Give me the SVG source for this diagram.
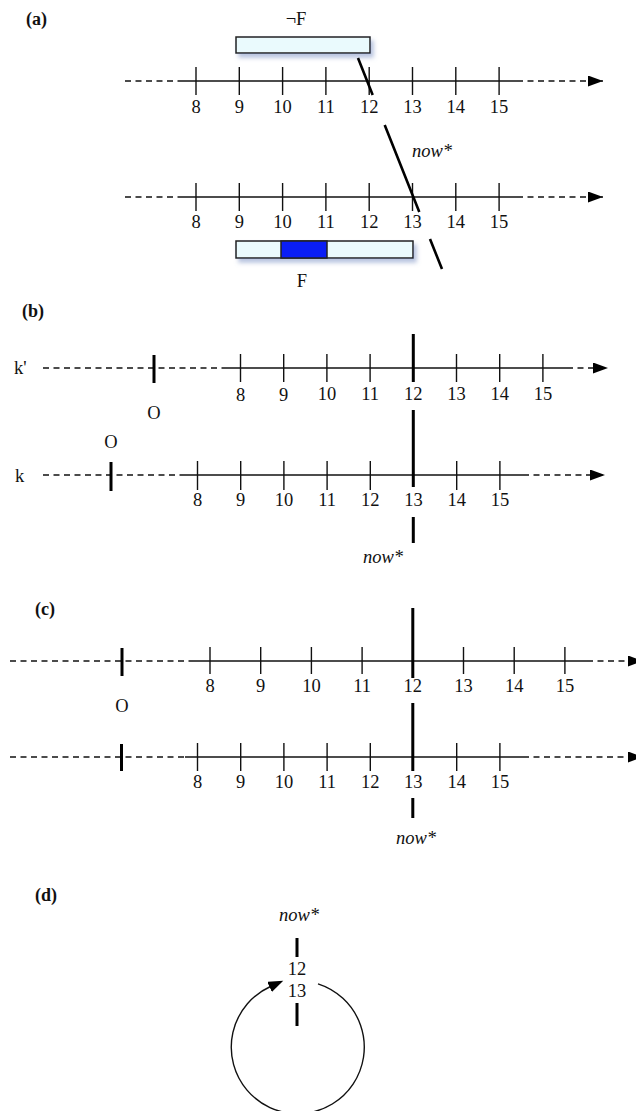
<svg xmlns="http://www.w3.org/2000/svg" width="636" height="1111" viewBox="0 0 636 1111">
<style>
.ax{stroke:#111;stroke-width:1.4;fill:none}
.da{stroke:#111;stroke-width:1.4;fill:none;stroke-dasharray:6 4.5}
.tk{stroke:#111;stroke-width:1.4}
.th{stroke:#000;stroke-width:3}
.nw{stroke:#000;stroke-width:2.6;fill:none}
.n{font-family:"Liberation Serif",serif;font-size:18.5px;fill:#111;text-anchor:middle}
.l{font-family:"Liberation Serif",serif;font-size:18.5px;fill:#111}
.b{font-family:"Liberation Serif",serif;font-size:18px;font-weight:bold;fill:#111}
.i{font-family:"Liberation Serif",serif;font-size:18.5px;font-style:italic;fill:#111}
.bx{fill:#eafafd;stroke:#222;stroke-width:1.5}
.blue{fill:#0a1ef5;stroke:#222;stroke-width:1.5}
</style>
<defs>
<marker id="arr" markerUnits="userSpaceOnUse" markerWidth="16" markerHeight="12" refX="15" refY="5.5" orient="auto">
<path d="M0,0 L15,5.5 L0,11 z" fill="#000"/>
</marker>
<marker id="arr2" markerUnits="userSpaceOnUse" markerWidth="16" markerHeight="12" refX="1" refY="5.5" orient="auto">
<path d="M0,0 L15,5.5 L0,11 z" fill="#000"/>
</marker>
<filter id="sh" x="-10%" y="-40%" width="130%" height="220%">
<feDropShadow dx="3" dy="4" stdDeviation="2" flood-color="#7088c0" flood-opacity="0.5"/>
</filter>
</defs>

<!-- Panel (a) -->
<g id="panel-a">
<text class="b" x="26" y="25">(a)</text>
<g id="notF-box">
<rect class="bx" x="236" y="37" width="134" height="16" filter="url(#sh)"/>
<text class="l" x="296" y="25" text-anchor="middle">¬F</text>
</g>
<g id="a-line1">
<path class="da" d="M125,81 H178"/>
<path class="ax" d="M178,81 H517"/>
<path class="da" d="M517,81 H603" marker-end="url(#arr)"/>
<g class="tk">
<line x1="196" y1="67" x2="196" y2="95"/><line x1="239.3" y1="67" x2="239.3" y2="95"/>
<line x1="282.6" y1="67" x2="282.6" y2="95"/><line x1="325.9" y1="67" x2="325.9" y2="95"/>
<line x1="369.2" y1="67" x2="369.2" y2="95"/><line x1="412.5" y1="67" x2="412.5" y2="95"/>
<line x1="455.8" y1="67" x2="455.8" y2="95"/><line x1="499.1" y1="67" x2="499.1" y2="95"/>
</g>
<text class="n" x="196" y="113">8</text><text class="n" x="239.3" y="113">9</text>
<text class="n" x="282.6" y="113">10</text><text class="n" x="325.9" y="113">11</text>
<text class="n" x="369.2" y="113">12</text><text class="n" x="412.5" y="113">13</text>
<text class="n" x="455.8" y="113">14</text><text class="n" x="499.1" y="113">15</text>
</g>
<g id="a-line2">
<path class="da" d="M125,197 H178"/>
<path class="ax" d="M178,197 H517"/>
<path class="da" d="M517,197 H603" marker-end="url(#arr)"/>
<g class="tk">
<line x1="196" y1="183" x2="196" y2="211"/><line x1="239.3" y1="183" x2="239.3" y2="211"/>
<line x1="282.6" y1="183" x2="282.6" y2="211"/><line x1="325.9" y1="183" x2="325.9" y2="211"/>
<line x1="369.2" y1="183" x2="369.2" y2="211"/><line x1="412.5" y1="183" x2="412.5" y2="211"/>
<line x1="455.8" y1="183" x2="455.8" y2="211"/><line x1="499.1" y1="183" x2="499.1" y2="211"/>
</g>
<text class="n" x="196" y="228">8</text><text class="n" x="239.3" y="228">9</text>
<text class="n" x="282.6" y="228">10</text><text class="n" x="325.9" y="228">11</text>
<text class="n" x="369.2" y="228">12</text><text class="n" x="412.5" y="228">13</text>
<text class="n" x="455.8" y="228">14</text><text class="n" x="499.1" y="228">15</text>
</g>
<g id="F-box">
<g filter="url(#sh)">
<rect class="bx" x="236" y="241" width="177" height="17"/>
</g>
<rect class="blue" x="281" y="241" width="46" height="17"/>
<text class="l" x="302" y="287" text-anchor="middle">F</text>
</g>
<text class="i" x="412" y="157">now*</text>
</g>

<!-- Panel (b) -->
<g id="panel-b">
<text class="b" x="22" y="317">(b)</text>
<g id="b-kprime">
<text class="l" x="14" y="374">k'</text>
<path class="da" d="M43,368 H225"/>
<path class="ax" d="M225,368 H567"/>
<path class="da" d="M567,368 H608" marker-end="url(#arr)"/>
<line class="th" x1="154" y1="355" x2="154" y2="383"/>
<text class="l" x="154" y="419" text-anchor="middle">O</text>
<g class="tk">
<line x1="240.5" y1="354" x2="240.5" y2="382"/><line x1="283.7" y1="354" x2="283.7" y2="382"/>
<line x1="326.9" y1="354" x2="326.9" y2="382"/><line x1="370.1" y1="354" x2="370.1" y2="382"/>
<line x1="456.5" y1="354" x2="456.5" y2="382"/><line x1="499.7" y1="354" x2="499.7" y2="382"/>
<line x1="542.9" y1="354" x2="542.9" y2="382"/>
</g>
<text class="n" x="240.5" y="401">8</text><text class="n" x="283.7" y="401">9</text>
<text class="n" x="326.9" y="400">10</text><text class="n" x="370.1" y="400">11</text>
<text class="n" x="413.3" y="400">12</text><text class="n" x="456.5" y="400">13</text>
<text class="n" x="499.7" y="400">14</text><text class="n" x="542.9" y="400">15</text>
</g>
<g id="b-k">
<text class="l" x="15" y="482">k</text>
<text class="l" x="111" y="448" text-anchor="middle">O</text>
<path class="da" d="M43,475 H183"/>
<path class="ax" d="M183,475 H523"/>
<path class="da" d="M523,475 H605" marker-end="url(#arr)"/>
<line class="th" x1="111" y1="462" x2="111" y2="491"/>
<g class="tk">
<line x1="197.5" y1="461" x2="197.5" y2="490"/><line x1="240.7" y1="461" x2="240.7" y2="490"/>
<line x1="283.9" y1="461" x2="283.9" y2="490"/><line x1="327.1" y1="461" x2="327.1" y2="490"/>
<line x1="370.3" y1="461" x2="370.3" y2="490"/><line x1="456.7" y1="461" x2="456.7" y2="490"/>
<line x1="499.9" y1="461" x2="499.9" y2="490"/>
</g>
<text class="n" x="197.5" y="506">8</text><text class="n" x="240.7" y="506">9</text>
<text class="n" x="283.9" y="506">10</text><text class="n" x="327.1" y="506">11</text>
<text class="n" x="370.3" y="506">12</text><text class="n" x="413.5" y="506">13</text>
<text class="n" x="456.7" y="506">14</text><text class="n" x="499.9" y="506">15</text>
</g>
<text class="i" x="383" y="563" text-anchor="middle">now*</text>
</g>

<!-- Panel (c) -->
<g id="panel-c">
<text class="b" x="35" y="615">(c)</text>
<g id="c-line1">
<path class="da" d="M10,661 H193"/>
<path class="ax" d="M193,661 H587"/>
<path class="da" d="M587,661 H643" marker-end="url(#arr)"/>
<line class="th" x1="122" y1="648" x2="122" y2="676"/>
<text class="l" x="122" y="712" text-anchor="middle">O</text>
<g class="tk">
<line x1="210" y1="647" x2="210" y2="674"/><line x1="260.7" y1="647" x2="260.7" y2="674"/>
<line x1="311.4" y1="647" x2="311.4" y2="674"/><line x1="362.1" y1="647" x2="362.1" y2="674"/>
<line x1="463.5" y1="647" x2="463.5" y2="674"/><line x1="514.2" y1="647" x2="514.2" y2="674"/>
<line x1="564.9" y1="647" x2="564.9" y2="674"/>
</g>
<text class="n" x="210" y="692">8</text><text class="n" x="260.7" y="692">9</text>
<text class="n" x="311.4" y="692">10</text><text class="n" x="362.1" y="692">11</text>
<text class="n" x="412.8" y="692">12</text><text class="n" x="463.5" y="692">13</text>
<text class="n" x="514.2" y="692">14</text><text class="n" x="564.9" y="692">15</text>
</g>
<g id="c-line2">
<path class="da" d="M10,757 H185"/>
<path class="ax" d="M185,757 H523"/>
<path class="da" d="M523,757 H643" marker-end="url(#arr)"/>
<line class="th" x1="121.5" y1="744" x2="121.5" y2="771"/>
<g class="tk">
<line x1="197.5" y1="743" x2="197.5" y2="771"/><line x1="240.7" y1="743" x2="240.7" y2="771"/>
<line x1="283.9" y1="743" x2="283.9" y2="771"/><line x1="327.1" y1="743" x2="327.1" y2="771"/>
<line x1="370.3" y1="743" x2="370.3" y2="771"/><line x1="456.7" y1="743" x2="456.7" y2="771"/>
<line x1="499.9" y1="743" x2="499.9" y2="771"/>
</g>
<text class="n" x="197.5" y="788">8</text><text class="n" x="240.7" y="788">9</text>
<text class="n" x="283.9" y="788">10</text><text class="n" x="327.1" y="788">11</text>
<text class="n" x="370.3" y="788">12</text><text class="n" x="413.3" y="788">13</text>
<text class="n" x="456.7" y="788">14</text><text class="n" x="499.9" y="788">15</text>
</g>
<text class="i" x="416" y="844" text-anchor="middle">now*</text>
</g>

<!-- Panel (d) -->
<g id="panel-d">
<text class="b" x="35" y="901">(d)</text>
<text class="i" x="299" y="921" text-anchor="middle">now*</text>
<text class="n" x="297" y="975">12</text>
<text class="n" x="297" y="997">13</text>
</g>

<!-- connectors: now* markers and loop -->
<g id="connectors">
<path class="nw" d="M358,58 L372.7,95 M384.7,125 L419.3,212 M430,239 L442,269"/>
<path class="th" d="M413.3,334 V382 M413.3,410 V487 M413.3,517 V543"/>
<path class="th" d="M412.8,608 V678 M412.8,703 V771 M412.8,798 V818"/>
<path class="th" d="M297,938 V957 M297,1003 V1026"/>
<path class="ax" d="M318,983.8 A66.5 66.5 0 1 1 270.5,986.5" marker-end="url(#arr2)"/>
</g>
</svg>
